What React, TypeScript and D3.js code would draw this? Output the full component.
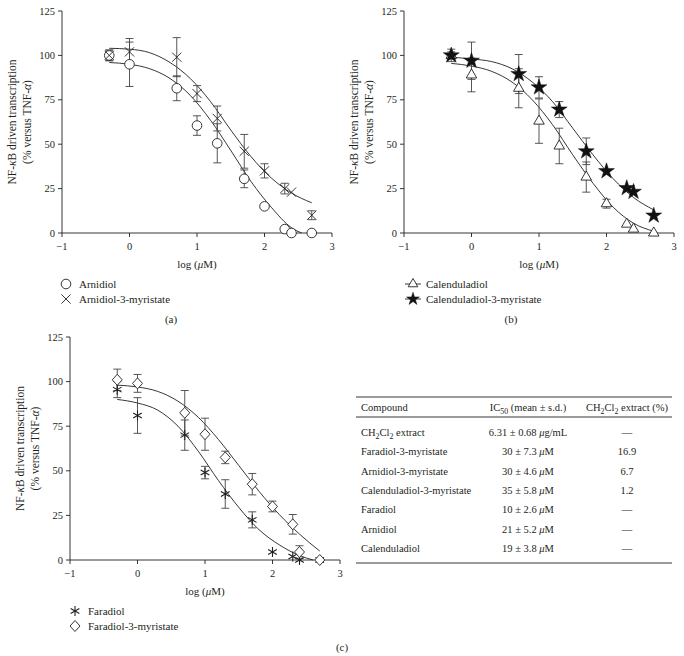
import React from "react";
import * as d3 from "d3";

// ---------- data ----------
const logConc = [-0.3, 0, 0.7, 1, 1.3, 1.7, 2, 2.3, 2.4, 2.7];
const xTicks = [-1, 0, 1, 2, 3];
const yTicks = [0, 25, 50, 75, 100, 125];

// panel (a)
const arnidiolMean = [100, 95, 81.5, 60.5, 50.5, 30.5, 15, 2.2, 0, 0];
const arnidiolSD = [3, 12.5, 7, 5.5, 11, 5, 0, 0, 0, 0];
const arnidiolMyrMean = [100, 102, 99, 78.5, 64.5, 46, 35, 25, 23, 10];
const arnidiolMyrSD = [3, 7.5, 11, 4.5, 7, 9.5, 4, 3, 0, 2.5];
const arnidiolFitX = [-0.3, 0, 0.3, 0.6, 0.9, 1.2, 1.5, 1.8, 2.1, 2.4, 2.55];
const arnidiolFitY = [96, 95, 92.5, 87, 77.5, 63.5, 46.5, 29, 14.5, 3, 0];
const arnidiolMyrFitX = [-0.3, 0, 0.3, 0.6, 0.9, 1.2, 1.5, 1.8, 2.1, 2.4, 2.7];
const arnidiolMyrFitY = [104, 103.5, 101.5, 96, 87, 74, 58, 43, 31, 22.5, 17];

// panel (b)
const calenduladiolMean = [100, 89, 81.5, 63, 49, 31.5, 16.5, 5, 2.2, 0];
const calenduladiolSD = [2, 9.5, 11, 12.5, 10, 8.5, 2.5, 0, 0, 0];
const calenduladiolMyrMean = [100, 97, 89.5, 82, 69.5, 46, 34.8, 25.3, 23.2, 9.8];
const calenduladiolMyrSD = [3.5, 10.5, 11, 6, 4.5, 7.5, 0, 0, 0, 0];
const calenduladiolFitX = [-0.3, 0, 0.3, 0.6, 0.9, 1.2, 1.5, 1.8, 2.1, 2.4, 2.7];
const calenduladiolFitY = [95.5, 94, 91, 85, 75, 61, 44, 28, 14.5, 5.5, 1];
const calenduladiolMyrFitX = [-0.3, 0, 0.3, 0.6, 0.9, 1.2, 1.5, 1.8, 2.1, 2.4, 2.7];
const calenduladiolMyrFitY = [99, 98, 96.5, 92.5, 85, 74, 59, 44, 30.5, 20, 13];

// panel (c)
const faradiolMean = [95.5, 81, 70, 49, 37, 22.5, 4.5, 2, 0, 0];
const faradiolSD = [4.5, 10, 8.5, 3.5, 8, 4.5, 0, 0, 0, 0];
const faradiolMyrMean = [101, 99, 82.5, 70.5, 57.5, 42.5, 30, 20, 4.5, 0];
const faradiolMyrSD = [6, 5, 12.5, 9, 3.5, 6, 3, 5.5, 3.5, 0];
const faradiolFitX = [-0.3, 0, 0.3, 0.6, 0.9, 1.2, 1.5, 1.8, 2.1, 2.4, 2.6];
const faradiolFitY = [90, 88, 84, 75, 61, 44.5, 29.5, 17, 8.5, 2.5, 0];
const faradiolMyrFitX = [-0.3, 0, 0.3, 0.6, 0.9, 1.2, 1.5, 1.8, 2.1, 2.4, 2.7];
const faradiolMyrFitY = [98, 97, 94.5, 89, 80, 67.5, 53, 38.5, 25.5, 14.5, 5];

// table
const tableHeader = ["Compound", "IC_{50} (mean ± s.d.)", "CH_{2}Cl_{2} extract (%)"];
const tableCompounds = [
  "CH_{2}Cl_{2} extract",
  "Faradiol-3-myristate",
  "Arnidiol-3-myristate",
  "Calenduladiol-3-myristate",
  "Faradiol",
  "Arnidiol",
  "Calenduladiol",
];
const tableIC50 = [
  "6.31 ± 0.68 μg/mL",
  "30 ± 7.3 μM",
  "30 ± 4.6 μM",
  "35 ± 5.8 μM",
  "10 ± 2.6 μM",
  "21 ± 5.2 μM",
  "19 ± 3.8 μM",
];
const tableExtract = ["—", "16.9", "6.7", "1.2", "—", "—", "—"];

// ---------- styles ----------
const FONT = "'Liberation Serif', 'Times New Roman', serif";
const INK = "#231f20";
const BAR = "#444";

type Marker = "circle" | "x" | "triangle" | "star" | "diamond" | "asterisk";

function MarkerShape({ type, x, y, small }: { type: Marker; x: number; y: number; small?: boolean }) {
  const sw = 0.9;
  if (type === "circle")
    return <circle cx={x} cy={y} r={4.8} fill="white" stroke={INK} strokeWidth={sw} />;
  if (type === "x")
    return (
      <g stroke={INK} strokeWidth={sw}>
        <line x1={x - 4.6} y1={y - 4.6} x2={x + 4.6} y2={y + 4.6} />
        <line x1={x - 4.6} y1={y + 4.6} x2={x + 4.6} y2={y - 4.6} />
      </g>
    );
  if (type === "triangle")
    return (
      <path
        d={d3.symbol(d3.symbolTriangle, small ? 40 : 48)() as string}
        transform={`translate(${x},${y})`}
        fill="white"
        stroke={INK}
        strokeWidth={sw}
      />
    );
  if (type === "star")
    return (
      <path
        d={d3.symbol(d3.symbolStar, small ? 50 : 78)() as string}
        transform={`translate(${x},${y})`}
        fill="#111"
        stroke="#111"
        strokeWidth={0.5}
      />
    );
  if (type === "diamond")
    return (
      <path
        d={`M${x},${y - 5.5}L${x + 5},${y}L${x},${y + 5.5}L${x - 5},${y}Z`}
        fill="white"
        stroke={INK}
        strokeWidth={sw}
      />
    );
  // asterisk
  const r = 5;
  const angs = [90, 30, -30];
  return (
    <g stroke={INK} strokeWidth={1.1}>
      {angs.map((a) => {
        const rad = (a * Math.PI) / 180;
        const dx = r * Math.cos(rad);
        const dy = r * Math.sin(rad);
        return <line key={a} x1={x - dx} y1={y - dy} x2={x + dx} y2={y + dy} />;
      })}
    </g>
  );
}

// rich text: _{..} subscript, μ/κ/α italic
function Rich({ text }: { text: string }) {
  const parts: React.ReactNode[] = [];
  const re = /_\{([^}]*)\}|([μκα])/g;
  let last = 0;
  let m: RegExpExecArray | null;
  let k = 0;
  let sub = false;
  while ((m = re.exec(text))) {
    if (m.index > last) {
      parts.push(
        <tspan key={k++} dy={sub ? -2.5 : 0}>
          {text.slice(last, m.index)}
        </tspan>
      );
      sub = false;
    }
    if (m[1] !== undefined) {
      parts.push(
        <tspan key={k++} dy={sub ? 0 : 2.5} fontSize="0.75em">
          {m[1]}
        </tspan>
      );
      sub = true;
    } else {
      parts.push(
        <tspan key={k++} dy={sub ? -2.5 : 0} fontStyle="italic">
          {m[2]}
        </tspan>
      );
      sub = false;
    }
    last = re.lastIndex;
  }
  if (last < text.length)
    parts.push(
      <tspan key={k++} dy={sub ? -2.5 : 0}>
        {text.slice(last)}
      </tspan>
    );
  return <>{parts}</>;
}

interface Series {
  mean: number[];
  sd: number[];
  marker: Marker;
  fitX: number[];
  fitY: number[];
  name: string;
}

function Panel({
  x0,
  x1,
  yTop,
  yBottom,
  series,
  legendLine,
  legX,
  label,
  labelX,
  labelY,
}: {
  x0: number;
  x1: number;
  yTop: number;
  yBottom: number;
  series: Series[];
  legendLine: boolean;
  legX: number;
  label: string;
  labelX: number;
  labelY: number;
}) {
  const x = d3.scaleLinear().domain([-1, 3]).range([x0, x1]);
  const y = d3.scaleLinear().domain([0, 125]).range([yBottom, yTop]);
  const line = d3
    .line<[number, number]>()
    .x((d) => x(d[0]))
    .y((d) => y(d[1]))
    .curve(d3.curveMonotoneX);
  const midY = (yTop + yBottom) / 2;
  const midX = (x0 + x1) / 2;
  return (
    <g fontFamily={FONT} fill={INK}>
      {/* axes */}
      <line x1={x0} y1={yTop} x2={x0} y2={yBottom} stroke={INK} strokeWidth={0.9} />
      <line x1={x0} y1={yBottom} x2={x1} y2={yBottom} stroke={INK} strokeWidth={0.9} />
      {yTicks.map((t) => (
        <g key={"y" + t}>
          <line x1={x0 - 4} x2={x0} y1={y(t)} y2={y(t)} stroke={INK} strokeWidth={0.9} />
          <text x={x0 - 7} y={y(t)} dy="0.34em" textAnchor="end" fontSize={10.5}>
            {t}
          </text>
        </g>
      ))}
      {xTicks.map((t) => (
        <g key={"x" + t}>
          <line x1={x(t)} x2={x(t)} y1={yBottom} y2={yBottom + 4} stroke={INK} strokeWidth={0.9} />
          <text x={x(t)} y={yBottom + 17} textAnchor="middle" fontSize={10.5}>
            {t < 0 ? "\u2212" + Math.abs(t) : t}
          </text>
        </g>
      ))}
      <text x={midX} y={yBottom + 35} textAnchor="middle" fontSize={11}>
        log (<tspan fontStyle="italic">μ</tspan>M)
      </text>
      <text
        transform={`translate(${x0 - 46},${midY}) rotate(-90)`}
        textAnchor="middle"
        fontSize={11.5}
      >
        NF-<tspan fontStyle="italic">κ</tspan>B driven transcription
      </text>
      <text
        transform={`translate(${x0 - 31},${midY}) rotate(-90)`}
        textAnchor="middle"
        fontSize={11.5}
      >
        (% versus TNF-<tspan fontStyle="italic">α</tspan>)
      </text>
      {/* fit curves */}
      {series.map((s, i) => (
        <path
          key={"f" + i}
          d={line(s.fitX.map((v, j) => [v, s.fitY[j]] as [number, number])) as string}
          fill="none"
          stroke={INK}
          strokeWidth={0.9}
        />
      ))}
      {/* error bars */}
      {series.map((s, i) =>
        logConc.map((c, j) =>
          s.sd[j] > 0 ? (
            <g key={`e${i}-${j}`} stroke={BAR} strokeWidth={0.9}>
              <line x1={x(c)} x2={x(c)} y1={y(s.mean[j] + s.sd[j])} y2={y(s.mean[j] - s.sd[j])} />
              <line x1={x(c) - 4} x2={x(c) + 4} y1={y(s.mean[j] + s.sd[j])} y2={y(s.mean[j] + s.sd[j])} />
              <line x1={x(c) - 4} x2={x(c) + 4} y1={y(s.mean[j] - s.sd[j])} y2={y(s.mean[j] - s.sd[j])} />
            </g>
          ) : null
        )
      )}
      {/* markers */}
      {series.map((s, i) =>
        logConc.map((c, j) => <MarkerShape key={`m${i}-${j}`} type={s.marker} x={x(c)} y={y(s.mean[j])} />)
      )}
      {/* legend */}
      {series.map((s, i) => {
        const ly = yBottom + 51 + i * 15;
        return (
          <g key={"l" + i}>
            {legendLine && (
              <line x1={legX - 8} x2={legX + 8} y1={ly} y2={ly} stroke={INK} strokeWidth={0.9} />
            )}
            <MarkerShape type={s.marker} x={legX} y={ly} small />
            <text x={legX + 13} y={ly} dy="0.35em" fontSize={11}>
              {s.name}
            </text>
          </g>
        );
      })}
      <text x={labelX} y={labelY} textAnchor="middle" fontSize={11}>
        {label}
      </text>
    </g>
  );
}

function Table() {
  const left = 356;
  const right = 672;
  const c1 = 361;
  const c2 = 528;
  const c3 = 627;
  const topLine = 397;
  const headY = 411;
  const headLine = 417;
  const row0 = 436;
  const rowH = 19.3;
  const bottomLine = 563;
  return (
    <g fontFamily={FONT} fill={INK} fontSize={10.5}>
      <line x1={left} x2={right} y1={topLine} y2={topLine} stroke={INK} strokeWidth={0.9} />
      <line x1={left} x2={right} y1={headLine} y2={headLine} stroke={INK} strokeWidth={0.9} />
      <line x1={left} x2={right} y1={bottomLine} y2={bottomLine} stroke={INK} strokeWidth={0.9} />
      <text x={c1} y={headY}>
        <Rich text={tableHeader[0]} />
      </text>
      <text x={c2} y={headY} textAnchor="middle">
        <Rich text={tableHeader[1]} />
      </text>
      <text x={c3} y={headY} textAnchor="middle">
        <Rich text={tableHeader[2]} />
      </text>
      {tableCompounds.map((c, i) => (
        <g key={i}>
          <text x={c1} y={row0 + i * rowH}>
            <Rich text={c} />
          </text>
          <text x={c2} y={row0 + i * rowH} textAnchor="middle">
            <Rich text={tableIC50[i]} />
          </text>
          <text x={c3} y={row0 + i * rowH} textAnchor="middle">
            {tableExtract[i]}
          </text>
        </g>
      ))}
    </g>
  );
}

export default function App() {
  const seriesA: Series[] = [
    { mean: arnidiolMean, sd: arnidiolSD, marker: "circle", fitX: arnidiolFitX, fitY: arnidiolFitY, name: "Arnidiol" },
    {
      mean: arnidiolMyrMean,
      sd: arnidiolMyrSD,
      marker: "x",
      fitX: arnidiolMyrFitX,
      fitY: arnidiolMyrFitY,
      name: "Arnidiol-3-myristate",
    },
  ];
  const seriesB: Series[] = [
    {
      mean: calenduladiolMean,
      sd: calenduladiolSD,
      marker: "triangle",
      fitX: calenduladiolFitX,
      fitY: calenduladiolFitY,
      name: "Calenduladiol",
    },
    {
      mean: calenduladiolMyrMean,
      sd: calenduladiolMyrSD,
      marker: "star",
      fitX: calenduladiolMyrFitX,
      fitY: calenduladiolMyrFitY,
      name: "Calenduladiol-3-myristate",
    },
  ];
  const seriesC: Series[] = [
    { mean: faradiolMean, sd: faradiolSD, marker: "asterisk", fitX: faradiolFitX, fitY: faradiolFitY, name: "Faradiol" },
    {
      mean: faradiolMyrMean,
      sd: faradiolMyrSD,
      marker: "diamond",
      fitX: faradiolMyrFitX,
      fitY: faradiolMyrFitY,
      name: "Faradiol-3-myristate",
    },
  ];
  return (
    <svg
      width={684}
      height={656}
      style={{ position: "absolute", left: 0, top: 0, background: "white" }}
    >
      <rect width={684} height={656} fill="white" />
      <Panel x0={62} x1={332} yTop={11} yBottom={233} series={seriesA} legendLine={false} legX={66} label="(a)" labelX={171} labelY={323} />
      <Panel x0={404} x1={674} yTop={11} yBottom={233} series={seriesB} legendLine={true} legX={413} label="(b)" labelX={511} labelY={323} />
      <Panel x0={70} x1={340} yTop={337} yBottom={560} series={seriesC} legendLine={false} legX={75} label="(c)" labelX={342} labelY={651} />
      <Table />
    </svg>
  );
}
